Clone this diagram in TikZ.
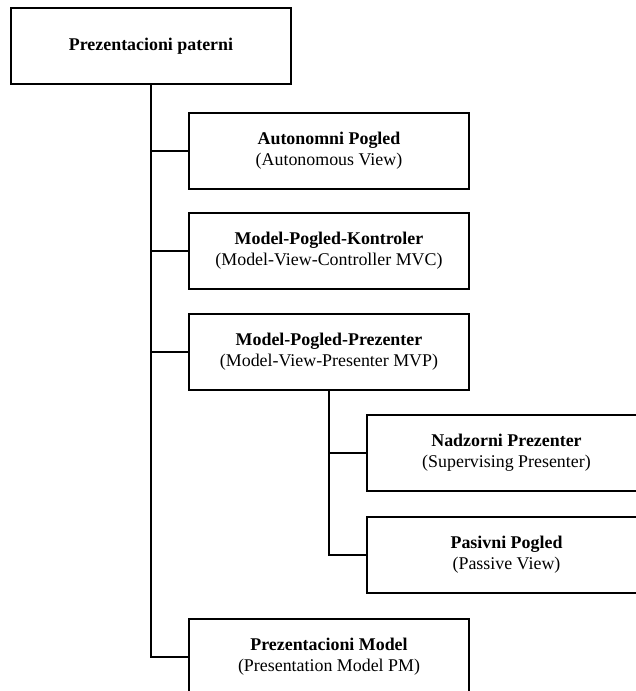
\documentclass[tikz,border=0pt]{standalone}
\usepackage{fontspec}
\setmainfont{Liberation Serif}
\begin{document}
\begin{tikzpicture}[x=1pt,y=-1pt,
  boxnode/.style={draw, line width=1.5pt, inner sep=0pt, outer sep=0pt,
    minimum width=280pt, minimum height=76pt, align=center,
    font=\fontsize{17.9}{21}\selectfont},
  conn/.style={line width=1.5pt}]
\useasboundingbox (0,0) rectangle (636,691);
\clip (0,0) rectangle (636,691);
\node[boxnode] (root) at (151,46) {\textbf{Prezentacioni paterni}};
\node[boxnode] (a1) at (329,151) {\textbf{Autonomni Pogled}\\(Autonomous View)};
\node[boxnode] (a2) at (329,251) {\textbf{Model-Pogled-Kontroler}\\(Model-View-Controller MVC)};
\node[boxnode] (a3) at (329,352) {\textbf{Model-Pogled-Prezenter}\\(Model-View-Presenter MVP)};
\node[boxnode, minimum width=279pt] (b1) at (506.5,453) {\textbf{Nadzorni Prezenter}\\(Supervising Presenter)};
\node[boxnode, minimum width=279pt] (b2) at (506.5,555) {\textbf{Pasivni Pogled}\\(Passive View)};
\node[boxnode] (a4) at (329,657) {\textbf{Prezentacioni Model}\\(Presentation Model PM)};
\draw[conn] (root.south) |- (a4.west);
\draw[conn] (root.south |- a1.west) -- (a1.west);
\draw[conn] (root.south |- a2.west) -- (a2.west);
\draw[conn] (root.south |- a3.west) -- (a3.west);
\draw[conn] (a3.south) |- (b2.west);
\draw[conn] (a3.south |- b1.west) -- (b1.west);
\end{tikzpicture}
\end{document}
